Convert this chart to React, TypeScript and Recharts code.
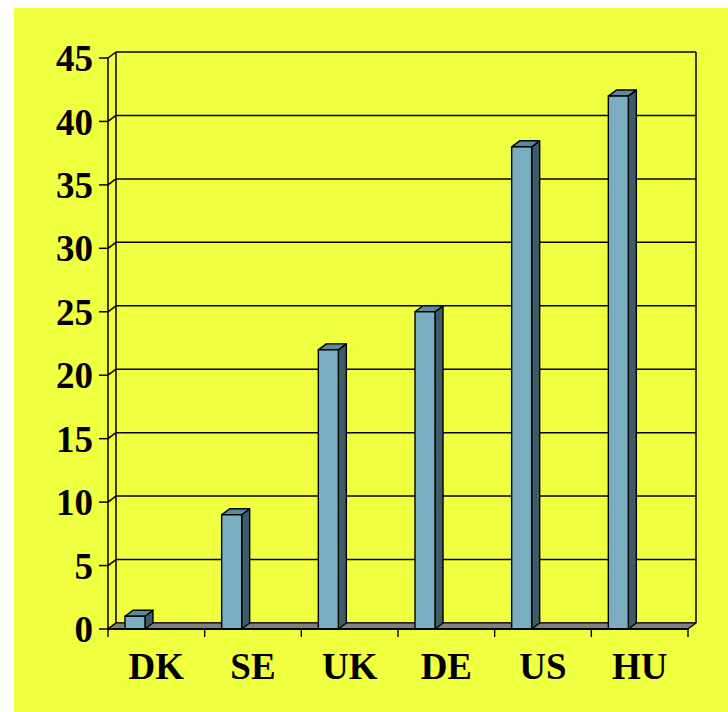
import React from "react";
import { BarChart, Bar, XAxis, YAxis, CartesianGrid, ReferenceArea } from "recharts";

const countries = ["DK", "SE", "UK", "DE", "US", "HU"];
const values = [1, 9, 22, 25, 38, 42];
const yTicks = [0, 5, 10, 15, 20, 25, 30, 35, 40, 45];

const data = countries.map((c, i) => ({ name: c, value: values[i] }));

const DX = 8;
const DY = -6;
const BAR_SHIFT = -21;
const FONT = "'Liberation Serif', 'Times New Roman', serif";

const Bar3D = (props: any) => {
  const { x, y, width, height } = props;
  if (height == null || width == null) return null;
  const X = x + BAR_SHIFT;
  const w = width;
  const top = `${X},${y} ${X + DX},${y + DY} ${X + w + DX},${y + DY} ${X + w},${y}`;
  const side = `${X + w},${y} ${X + w + DX},${y + DY} ${X + w + DX},${y + height + DY} ${X + w},${y + height}`;
  return (
    <g>
      <polygon points={side} fill="#3E5B68" stroke="#000" strokeWidth={1.4} strokeLinejoin="round" />
      <polygon points={top} fill="#5C8A9B" stroke="#000" strokeWidth={1.4} strokeLinejoin="round" />
      <rect x={X} y={y} width={w} height={height} fill="#7AAFC2" stroke="#000" strokeWidth={1.4} />
    </g>
  );
};

const GridLine = (props: any) => {
  const { x1, y1, x2 } = props;
  return (
    <g key={props.key}>
      <line x1={x1} y1={y1} x2={x1 + DX} y2={y1 + DY} stroke="#000" strokeWidth={1.5} />
      <line x1={x1 + DX} y1={y1 + DY} x2={x2 + DX} y2={y1 + DY} stroke="#000" strokeWidth={1.5} />
    </g>
  );
};

const WallAndFloor = (props: any) => {
  const { x, y, width, height } = props;
  const by = y + height;
  const floor = `${x},${by} ${x + width},${by} ${x + width + DX},${by + DY} ${x + DX},${by + DY}`;
  return (
    <g>
      <line x1={x + DX} y1={y + DY} x2={x + DX} y2={by + DY} stroke="#000" strokeWidth={1.5} />
      <line x1={x + width + DX} y1={y + DY} x2={x + width + DX} y2={by + DY} stroke="#000" strokeWidth={1.5} />
      <polygon points={floor} fill="#808080" stroke="#000" strokeWidth={1.2} strokeLinejoin="round" />
    </g>
  );
};

const CategoryTick = (props: any) => {
  const { x, y, payload, index, width } = props;
  const half =
    payload && typeof payload.offset === "number" && payload.offset > 0
      ? payload.offset
      : width / countries.length / 2;
  const isLast = index === countries.length - 1;
  return (
    <g>
      <line x1={x - half} y1={y} x2={x - half} y2={y + 8} stroke="#000" strokeWidth={1.4} />
      {isLast && <line x1={x + half} y1={y} x2={x + half} y2={y + 8} stroke="#000" strokeWidth={1.4} />}
      <text
        x={x}
        y={y + 50}
        textAnchor="middle"
        fill="#000"
        fontSize={37}
        fontWeight="bold"
        fontFamily={FONT}
      >
        {payload.value}
      </text>
    </g>
  );
};

export default function App() {
  return (
    <div
      style={{
        position: "absolute",
        left: 14,
        top: 8,
        width: 714,
        height: 704,
        background: "#F0FF40",
      }}
    >
      <BarChart
        width={714}
        height={704}
        data={data}
        margin={{ top: 50, right: 40, bottom: 23, left: 14 }}
        barSize={20}
      >
        <CartesianGrid horizontal={GridLine as any} vertical={false} />
        <XAxis
          dataKey="name"
          height={60}
          axisLine={{ stroke: "#000", strokeWidth: 2 }}
          tickLine={false}
          tickSize={0}
          tickMargin={0}
          interval={0}
          tick={CategoryTick as any}
        />
        <YAxis
          width={80}
          domain={[0, 45]}
          ticks={yTicks}
          interval={0}
          tickSize={9}
          tickMargin={6}
          axisLine={{ stroke: "#000", strokeWidth: 1.5 }}
          tickLine={{ stroke: "#000", strokeWidth: 1.5 }}
          tick={{ fill: "#000", fontSize: 37, fontWeight: "bold", fontFamily: FONT }}
        />
        <ReferenceArea y1={0} y2={45} shape={WallAndFloor as any} fill="none" stroke="none" />
        <Bar dataKey="value" shape={Bar3D as any} isAnimationActive={false} />
      </BarChart>
    </div>
  );
}
